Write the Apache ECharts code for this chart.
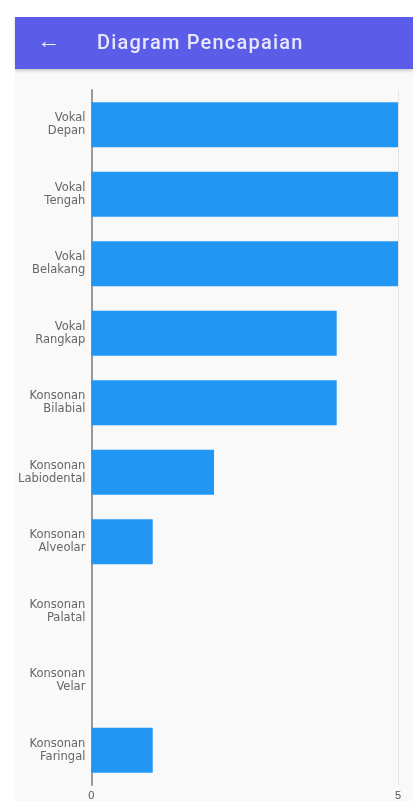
<!DOCTYPE html>
<html><head><meta charset="utf-8">
<script src="https://cdn.jsdelivr.net/npm/echarts@6/dist/echarts.min.js"></script>
<style>
html,body{margin:0;padding:0;background:#fff;width:413px;height:801px;overflow:hidden;font-family:Roboto,"Noto Sans",sans-serif;}
#hdr{position:absolute;left:15px;top:17px;width:398px;height:52px;background:#5b5de8;box-shadow:0 2px 3px rgba(0,0,0,0.18);z-index:2;}
#arrow{position:absolute;left:22px;top:10px;color:#eef;font-size:23px;font-weight:700;line-height:28px;}
#ttl{position:absolute;left:82px;top:11px;color:#e6e8fa;font-size:20px;font-weight:500;letter-spacing:1.2px;line-height:28px;}
#chart{position:absolute;left:15px;top:69px;width:398px;height:732px;background:#f9f9f9;}
</style></head><body>
<div id="hdr"><div id="arrow">&#8592;</div><div id="ttl">Diagram Pencapaian</div></div>
<div id="chart"></div>
<script>
const categories = ["Vokal\nDepan","Vokal\nTengah","Vokal\nBelakang","Vokal\nRangkap","Konsonan\nBilabial","Konsonan\nLabiodental","Konsonan\nAlveolar","Konsonan\nPalatal","Konsonan\nVelar","Konsonan\nFaringal"];
const values = [5,5,5,4,4,2,1,0,0,1];
const axisMin = 0, axisMax = 5, axisInterval = 5;
const chart = echarts.init(document.getElementById('chart'));
chart.setOption({
  backgroundColor:'#f9f9f9',
  animation:false,
  grid:{left:76,right:15,top:21,bottom:3},
  xAxis:{type:'value',min:axisMin,max:axisMax,interval:axisInterval,
    axisLine:{show:false},axisTick:{show:false},
    splitLine:{show:true,lineStyle:{color:'#e6e6e6',width:1}},
    axisLabel:{color:'#555',fontSize:11,margin:5}},
  yAxis:{type:'category',data:categories,inverse:true,
    axisLine:{show:true,lineStyle:{color:'#999',width:2}},
    axisTick:{show:false},
    axisLabel:{color:'#666',fontSize:11.5,lineHeight:13,align:'right',margin:6,fontFamily:'DejaVu Sans'}},
  series:[{type:'bar',data:values,barWidth:'65%',itemStyle:{color:'#2196f3'}}]
});
</script></body></html>
